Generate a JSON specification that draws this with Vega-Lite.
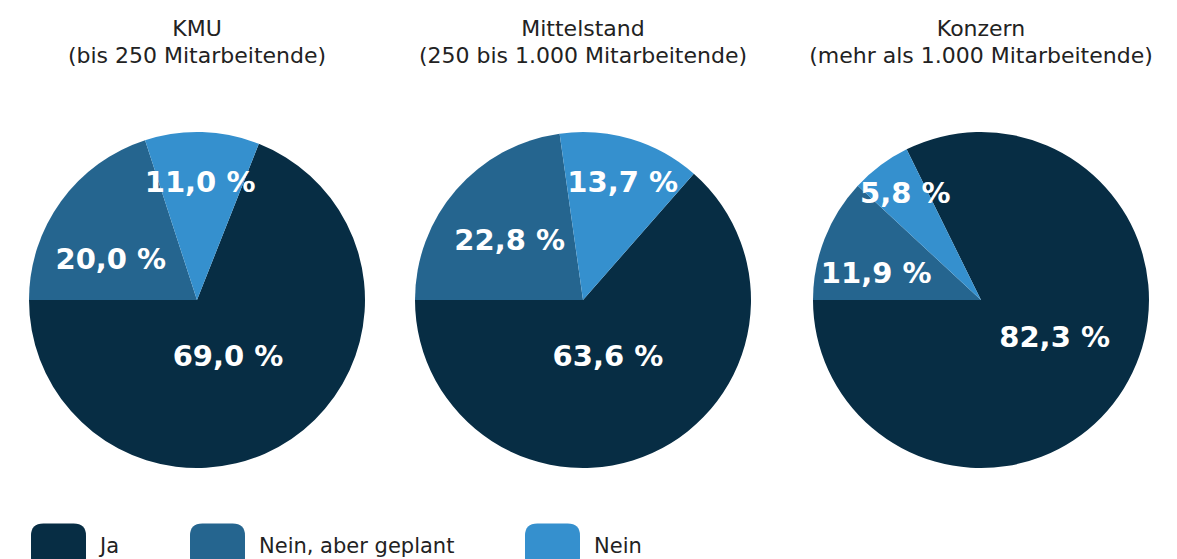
{
  "$schema": "https://vega.github.io/schema/vega-lite/v6.json",
  "background": "white",
  "padding": {"left": 27, "top": 18, "right": 0, "bottom": 0},
  "datasets": {
    "umfrage": [
      {"gruppe": "KMU", "antwort": "Ja", "anteil": 69.0, "reihe": 1},
      {"gruppe": "KMU", "antwort": "Nein, aber geplant", "anteil": 20.0, "reihe": 2},
      {"gruppe": "KMU", "antwort": "Nein", "anteil": 11.0, "reihe": 3},
      {"gruppe": "Mittelstand", "antwort": "Ja", "anteil": 63.6, "reihe": 1},
      {"gruppe": "Mittelstand", "antwort": "Nein, aber geplant", "anteil": 22.8, "reihe": 2},
      {"gruppe": "Mittelstand", "antwort": "Nein", "anteil": 13.7, "reihe": 3},
      {"gruppe": "Konzern", "antwort": "Ja", "anteil": 82.3, "reihe": 1},
      {"gruppe": "Konzern", "antwort": "Nein, aber geplant", "anteil": 11.9, "reihe": 2},
      {"gruppe": "Konzern", "antwort": "Nein", "anteil": 5.8, "reihe": 3}
    ]
  },
  "spacing": 46,
  "bounds": "flush",
  "resolve": {"scale": {"theta": "independent", "color": "shared"}, "legend": {"color": "shared"}},
  "hconcat": [
    {
      "title": {"text": ["KMU", "(bis 250 Mitarbeitende)"]},
      "width": 340, "height": 340,
      "data": {"name": "umfrage"},
      "transform": [
        {"filter": "datum.gruppe === 'KMU'"},
        {"calculate": "replace(format(datum.anteil, '.1f'), '.', ',') + ' %'", "as": "label"}
      ],
      "encoding": {
        "theta": {"field": "anteil", "type": "quantitative", "stack": true, "scale": {"range": [0.376991, 6.660176]}},
        "order": {"field": "reihe", "type": "quantitative"},
        "detail": {"field": "antwort"}
      },
      "layer": [
        {
          "mark": {"type": "arc", "radius": 168},
          "encoding": {
            "color": {"field": "antwort", "type": "nominal", "title": null,
              "scale": {"domain": ["Ja", "Nein, aber geplant", "Nein"], "range": ["#072d44", "#25658f", "#3590ce"]}}
          }
        },
        {
          "mark": {"type": "text", "radius": 65, "thetaOffset": 0.1, "font": "DejaVu Sans", "fontSize": 29, "fontWeight": "bold", "color": "white"},
          "encoding": {"text": {"condition": {"test": "datum.antwort === 'Ja'", "field": "label"}, "value": ""}}
        },
        {
          "mark": {"type": "text", "radius": 95, "thetaOffset": -0.194, "font": "DejaVu Sans", "fontSize": 29, "fontWeight": "bold", "color": "white"},
          "encoding": {"text": {"condition": {"test": "datum.antwort === 'Nein, aber geplant'", "field": "label"}, "value": ""}}
        },
        {
          "mark": {"type": "text", "radius": 117, "thetaOffset": -0.005, "font": "DejaVu Sans", "fontSize": 29, "fontWeight": "bold", "color": "white"},
          "encoding": {"text": {"condition": {"test": "datum.antwort === 'Nein'", "field": "label"}, "value": ""}}
        }
      ]
    },
    {
      "title": {"text": ["Mittelstand", "(250 bis 1.000 Mitarbeitende)"]},
      "width": 340, "height": 340,
      "data": {"name": "umfrage"},
      "transform": [
        {"filter": "datum.gruppe === 'Mittelstand'"},
        {"calculate": "replace(format(datum.anteil, '.1f'), '.', ',') + ' %'", "as": "label"}
      ],
      "encoding": {
        "theta": {"field": "anteil", "type": "quantitative", "stack": true, "scale": {"range": [0.720300, 7.003485]}},
        "order": {"field": "reihe", "type": "quantitative"},
        "detail": {"field": "antwort"}
      },
      "layer": [
        {
          "mark": {"type": "arc", "radius": 168},
          "encoding": {
            "color": {"field": "antwort", "type": "nominal", "title": null,
              "scale": {"domain": ["Ja", "Nein, aber geplant", "Nein"], "range": ["#072d44", "#25658f", "#3590ce"]}}
          }
        },
        {
          "mark": {"type": "text", "radius": 62, "thetaOffset": 0.012, "font": "DejaVu Sans", "fontSize": 29, "fontWeight": "bold", "color": "white"},
          "encoding": {"text": {"condition": {"test": "datum.antwort === 'Ja'", "field": "label"}, "value": ""}}
        },
        {
          "mark": {"type": "text", "radius": 94, "thetaOffset": -0.04, "font": "DejaVu Sans", "fontSize": 29, "fontWeight": "bold", "color": "white"},
          "encoding": {"text": {"condition": {"test": "datum.antwort === 'Nein, aber geplant'", "field": "label"}, "value": ""}}
        },
        {
          "mark": {"type": "text", "radius": 124, "thetaOffset": 0.035, "font": "DejaVu Sans", "fontSize": 29, "fontWeight": "bold", "color": "white"},
          "encoding": {"text": {"condition": {"test": "datum.antwort === 'Nein'", "field": "label"}, "value": ""}}
        }
      ]
    },
    {
      "title": {"text": ["Konzern", "(mehr als 1.000 Mitarbeitende)"]},
      "width": 364, "height": 340,
      "data": {"name": "umfrage"},
      "transform": [
        {"filter": "datum.gruppe === 'Konzern'"},
        {"calculate": "replace(format(datum.anteil, '.1f'), '.', ',') + ' %'", "as": "label"}
      ],
      "encoding": {
        "theta": {"field": "anteil", "type": "quantitative", "stack": true, "scale": {"range": [-0.458673, 5.824512]}},
        "order": {"field": "reihe", "type": "quantitative"},
        "detail": {"field": "antwort"}
      },
      "layer": [
        {
          "mark": {"type": "arc", "radius": 168},
          "encoding": {
            "color": {"field": "antwort", "type": "nominal", "title": null,
              "scale": {"domain": ["Ja", "Nein, aber geplant", "Nein"], "range": ["#072d44", "#25658f", "#3590ce"]}}
          }
        },
        {
          "mark": {"type": "text", "radius": 83, "thetaOffset": -0.076, "font": "DejaVu Sans", "fontSize": 29, "fontWeight": "bold", "color": "white"},
          "encoding": {"text": {"condition": {"test": "datum.antwort === 'Ja'", "field": "label"}, "value": ""}}
        },
        {
          "mark": {"type": "text", "radius": 108, "thetaOffset": -0.131, "font": "DejaVu Sans", "fontSize": 29, "fontWeight": "bold", "color": "white"},
          "encoding": {"text": {"condition": {"test": "datum.antwort === 'Nein, aber geplant'", "field": "label"}, "value": ""}}
        },
        {
          "mark": {"type": "text", "radius": 130, "thetaOffset": 0.02, "font": "DejaVu Sans", "fontSize": 29, "fontWeight": "bold", "color": "white"},
          "encoding": {"text": {"condition": {"test": "datum.antwort === 'Nein'", "field": "label"}, "value": ""}}
        }
      ]
    }
  ],
  "config": {
    "view": {"stroke": null},
    "title": {"font": "DejaVu Sans", "fontSize": 22, "fontWeight": "normal", "color": "#222222", "lineHeight": 27, "offset": 62, "anchor": "middle"},
    "legend": {
      "orient": "bottom",
      "direction": "horizontal",
      "offset": 45,
      "padding": 4,
      "labelFont": "DejaVu Sans",
      "labelFontSize": 21,
      "labelColor": "#222222",
      "labelOffset": 14,
      "columnPadding": 70,
      "symbolType": "M -0.55,-0.84 H 0.55 Q 1,-0.84 1,-0.4 V 0.4 Q 1,0.84 0.55,0.84 H -0.55 Q -1,0.84 -1,0.4 V -0.4 Q -1,-0.84 -0.55,-0.84 Z",
      "symbolSize": 3025,
      "symbolStrokeWidth": 0,
      "symbolOpacity": 1,
      "labelLimit": 400
    }
  }
}
